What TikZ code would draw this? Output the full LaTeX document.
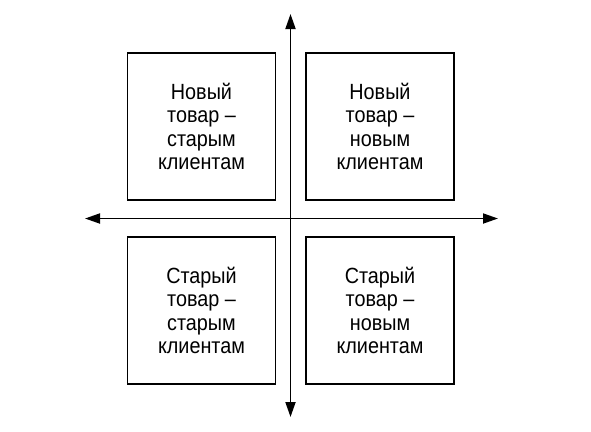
\documentclass[tikz,border=0pt]{standalone}
\usepackage{fontspec}
\setmainfont[FakeStretch=0.9]{Liberation Sans}
\usetikzlibrary{arrows.meta}
\begin{document}
\begin{tikzpicture}[x=1bp,y=-1bp,
    quad/.style={draw,line width=1.8bp,minimum width=148bp,minimum height=147bp,
      align=center,font=\fontsize{22bp}{23.5bp}\selectfont,inner sep=0pt},
    axis/.style={line width=1.8bp,-{Triangle[length=15bp,width=10bp]}}]
      \useasboundingbox (0,0) rectangle (591,431);
      \draw
        (201.5,126.5) node[quad] (ns){Новый\\товар –\\старым\\клиентам}
        (380,126.5) node[quad] (nn){Новый\\товар –\\новым\\клиентам}
        (201.5,310.5) node[quad] (ss){Старый\\товар –\\старым\\клиентам}
        (380,310.5) node[quad] (sn){Старый\\товар –\\новым\\клиентам};
      \coordinate (c) at (290.5,218.5);
      \coordinate (up) at (290.5,14);
      \coordinate (down) at (290.5,417);
      \coordinate (left) at (85,218.5);
      \coordinate (right) at (498,218.5);
      \begin{scope}[axis]
        \draw (c) to (up);
        \draw (c) to (down);
        \draw (c) to (left);
        \draw (c) to (right);
      \end{scope}
    \end{tikzpicture}
\end{document}
